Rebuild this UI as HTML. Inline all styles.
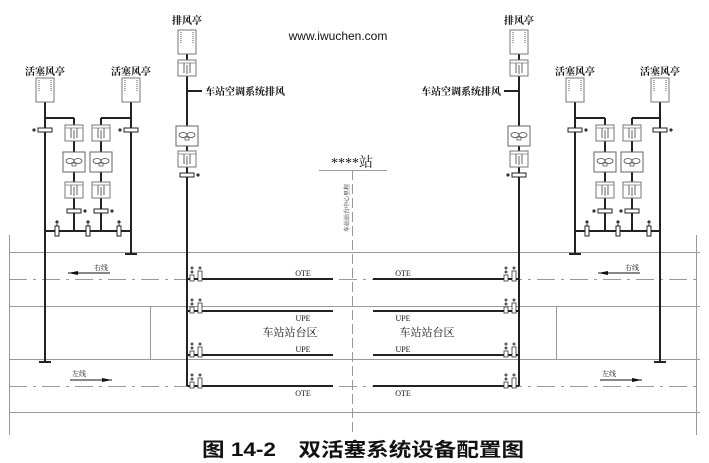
<!DOCTYPE html>
<html><head><meta charset="utf-8"><style>
html,body{margin:0;padding:0;background:#fff;}
svg{display:block;}
text{font-family:"Liberation Serif","Noto Serif CJK SC","Noto Sans CJK SC",serif;fill:#111;}
</style></head><body>
<svg width="709" height="463" viewBox="0 0 709 463" xmlns="http://www.w3.org/2000/svg">
<defs>
<g id="tower"><rect x="-9" y="0" width="18" height="24" fill="#fff" stroke="#777" stroke-width="1"/><line x1="-6" y1="2" x2="-6" y2="14" stroke="#555" stroke-dasharray="1,1"/><line x1="6" y1="2" x2="6" y2="14" stroke="#555" stroke-dasharray="1,1"/></g>
<g id="damper"><rect x="-9" y="0" width="18" height="16" fill="#fff" stroke="#777"/><line x1="-9" y1="3" x2="9" y2="3" stroke="#999"/><line x1="-3" y1="3" x2="-3" y2="13" stroke="#666"/><line x1="0" y1="5" x2="0" y2="14" stroke="#666"/><line x1="3" y1="3" x2="3" y2="13" stroke="#666"/></g>
<g id="fan"><rect x="-11" y="0" width="22" height="20" fill="#fff" stroke="#666"/><ellipse cx="-4" cy="9" rx="4" ry="2.5" fill="none" stroke="#444" stroke-width=".8"/><ellipse cx="4" cy="9" rx="4" ry="2.5" fill="none" stroke="#444" stroke-width=".8"/><rect x="-2" y="11" width="4" height="3" fill="none" stroke="#444" stroke-width=".7"/></g>
<g id="barR"><rect x="-7" y="-2" width="14" height="4" fill="#fff" stroke="#222"/><circle cx="11" cy="0" r="1.6" fill="#333"/></g>
<g id="barL"><rect x="-7" y="-2" width="14" height="4" fill="#fff" stroke="#222"/><circle cx="-11" cy="0" r="1.6" fill="#333"/></g>
<g id="valve"><circle cx="0" cy="-9" r="1.6" fill="#333"/><line x1="0" y1="-7" x2="0" y2="-5" stroke="#333"/><rect x="-2" y="-5" width="4" height="10" fill="#fff" stroke="#222"/></g>
<g id="tv"><circle cx="0" cy="-7" r="1.5" fill="#555"/><circle cx="0" cy="-3" r="1.5" fill="#555"/><rect x="-2" y="0" width="4" height="6" fill="#fff" stroke="#333" stroke-width=".8"/><circle cx="8" cy="-7" r="1.5" fill="#555"/><rect x="6" y="-4" width="4" height="10" fill="#fff" stroke="#333" stroke-width=".8"/></g>
<marker id="ah" viewBox="0 0 10 4" refX="10" refY="2" markerWidth="14" markerHeight="4" markerUnits="userSpaceOnUse" orient="auto"><path d="M0,0 L10,2 L0,4z" fill="#111"/></marker>
</defs>

<!-- grid lines -->
<g stroke="#999" stroke-width="1" fill="none">
<line x1="9" y1="252.5" x2="700" y2="252.5"/>
<line x1="9" y1="306.5" x2="700" y2="306.5"/>
<line x1="9" y1="359.5" x2="700" y2="359.5"/>
<line x1="9" y1="412.5" x2="700" y2="412.5"/>
<line x1="9.5" y1="235" x2="9.5" y2="435"/>
<line x1="696.5" y1="235" x2="696.5" y2="435"/>
<line x1="150.5" y1="306" x2="150.5" y2="359"/>
<line x1="556.5" y1="306" x2="556.5" y2="359"/>
<line x1="9" y1="279.5" x2="700" y2="279.5" stroke-dasharray="18,6,3,6"/>
<line x1="9" y1="386.5" x2="700" y2="386.5" stroke-dasharray="18,6,3,6"/>
<line x1="352.5" y1="170" x2="352.5" y2="432" stroke-dasharray="10,4"/>
<line x1="319" y1="170.5" x2="387" y2="170.5"/>
</g>

<!-- track lines -->
<g stroke="#222" stroke-width="2">
<line x1="187" y1="279" x2="333" y2="279"/><line x1="373" y1="279" x2="519" y2="279"/>
<line x1="187" y1="311" x2="333" y2="311"/><line x1="373" y1="311" x2="519" y2="311"/>
<line x1="187" y1="355" x2="333" y2="355"/><line x1="373" y1="355" x2="519" y2="355"/>
<line x1="187" y1="386" x2="333" y2="386"/><line x1="373" y1="386" x2="519" y2="386"/>
</g>
<g>
<use href="#tv" x="192" y="275"/><use href="#tv" x="192" y="307"/><use href="#tv" x="192" y="351"/><use href="#tv" x="192" y="382"/>
<use href="#tv" x="506" y="275"/><use href="#tv" x="506" y="307"/><use href="#tv" x="506" y="351"/><use href="#tv" x="506" y="382"/>
</g>
<g font-size="8" text-anchor="middle">
<text x="303" y="276">OTE</text><text x="403" y="276">OTE</text>
<text x="303" y="321">UPE</text><text x="403" y="321">UPE</text>
<text x="303" y="352">UPE</text><text x="403" y="352">UPE</text>
<text x="303" y="396">OTE</text><text x="403" y="396">OTE</text>
</g>
<text x="290" y="336" font-size="11" text-anchor="middle">车站站台区</text>
<text x="427" y="336" font-size="11" text-anchor="middle">车站站台区</text>

<!-- arrows -->
<g stroke="#111" stroke-width="1">
<line x1="110" y1="273" x2="68" y2="273" marker-end="url(#ah)"/>
<line x1="70" y1="380" x2="112" y2="380" marker-end="url(#ah)"/>
<line x1="640" y1="273" x2="598" y2="273" marker-end="url(#ah)"/>
<line x1="600" y1="380" x2="642" y2="380" marker-end="url(#ah)"/>
</g>
<g font-size="7"><text x="94" y="270">右线</text><text x="72" y="376">左线</text><text x="625" y="270">右线</text><text x="602" y="376">左线</text></g>

<!-- left exhaust -->
<g stroke="#222" stroke-width="2" fill="none">
<line x1="187" y1="54" x2="187" y2="386"/>
<line x1="187" y1="91" x2="202" y2="91"/>
<line x1="519" y1="54" x2="519" y2="386"/>
<line x1="504" y1="91" x2="519" y2="91"/>
</g>
<use href="#tower" x="187" y="30"/><use href="#damper" x="187" y="60"/><use href="#fan" x="187" y="126"/><use href="#damper" x="187" y="151"/><use href="#barR" x="187" y="175"/>
<use href="#tower" x="519" y="30"/><use href="#damper" x="519" y="60"/><use href="#fan" x="519" y="126"/><use href="#damper" x="519" y="151"/><use href="#barL" x="519" y="175"/>
<g font-size="10" font-weight="bold">
<text x="187" y="24" text-anchor="middle">排风亭</text><text x="519" y="24" text-anchor="middle">排风亭</text>
<text x="205" y="95">车站空调系统排风</text><text x="501" y="95" text-anchor="end">车站空调系统排风</text>
<text x="45" y="75" text-anchor="middle">活塞风亭</text><text x="131" y="75" text-anchor="middle">活塞风亭</text>
<text x="575" y="75" text-anchor="middle">活塞风亭</text><text x="660" y="75" text-anchor="middle">活塞风亭</text>
</g>

<!-- left piston -->
<g stroke="#222" stroke-width="2" fill="none">
<line x1="45" y1="102" x2="45" y2="362"/><line x1="39" y1="362" x2="51" y2="362"/>
<line x1="131" y1="102" x2="131" y2="254"/><line x1="125" y1="254" x2="137" y2="254"/>
<line x1="45" y1="118" x2="74" y2="118"/><line x1="74" y1="118" x2="74" y2="231"/>
<line x1="101" y1="118" x2="131" y2="118"/><line x1="101" y1="118" x2="101" y2="231"/>
<line x1="45" y1="231" x2="131" y2="231"/>
<line x1="575" y1="102" x2="575" y2="254"/><line x1="569" y1="254" x2="581" y2="254"/>
<line x1="660" y1="102" x2="660" y2="362"/><line x1="654" y1="362" x2="666" y2="362"/>
<line x1="575" y1="118" x2="605" y2="118"/><line x1="605" y1="118" x2="605" y2="231"/>
<line x1="632" y1="118" x2="660" y2="118"/><line x1="632" y1="118" x2="632" y2="231"/>
<line x1="575" y1="231" x2="660" y2="231"/>
</g>
<use href="#tower" x="45" y="78"/><use href="#tower" x="131" y="78"/><use href="#tower" x="575" y="78"/><use href="#tower" x="660" y="78"/>
<use href="#barL" x="45" y="130"/><use href="#barL" x="131" y="130"/><use href="#barR" x="575" y="130"/><use href="#barR" x="660" y="130"/>
<g>
<use href="#damper" x="74" y="125"/><use href="#fan" x="74" y="152"/><use href="#damper" x="74" y="182"/><use href="#barR" x="74" y="211"/>
<use href="#damper" x="101" y="125"/><use href="#fan" x="101" y="152"/><use href="#damper" x="101" y="182"/><use href="#barR" x="101" y="211"/>
<use href="#damper" x="605" y="125"/><use href="#fan" x="605" y="152"/><use href="#damper" x="605" y="182"/><use href="#barL" x="605" y="211"/>
<use href="#damper" x="632" y="125"/><use href="#fan" x="632" y="152"/><use href="#damper" x="632" y="182"/><use href="#barL" x="632" y="211"/>
<use href="#valve" x="57" y="231"/><use href="#valve" x="88" y="231"/><use href="#valve" x="119" y="231"/>
<use href="#valve" x="587" y="231"/><use href="#valve" x="618" y="231"/><use href="#valve" x="649" y="231"/>
</g>

<!-- center -->
<text x="352" y="167" font-size="14" text-anchor="middle" font-family="Liberation Sans,Noto Sans CJK SC,sans-serif">****站</text>
<text transform="translate(349,232) rotate(-90)" font-size="6">车站站台中心里程</text>
<text x="338" y="40" font-size="12" text-anchor="middle" style="font-family:'Liberation Sans',sans-serif" fill="#111">www.iwuchen.com</text>
<text x="363" y="456" font-size="19" font-weight="bold" text-anchor="middle" textLength="322" lengthAdjust="spacingAndGlyphs" style="font-family:'Liberation Sans','Noto Sans CJK SC',sans-serif">图 14-2　双活塞系统设备配置图</text>
</svg>
</body></html>
